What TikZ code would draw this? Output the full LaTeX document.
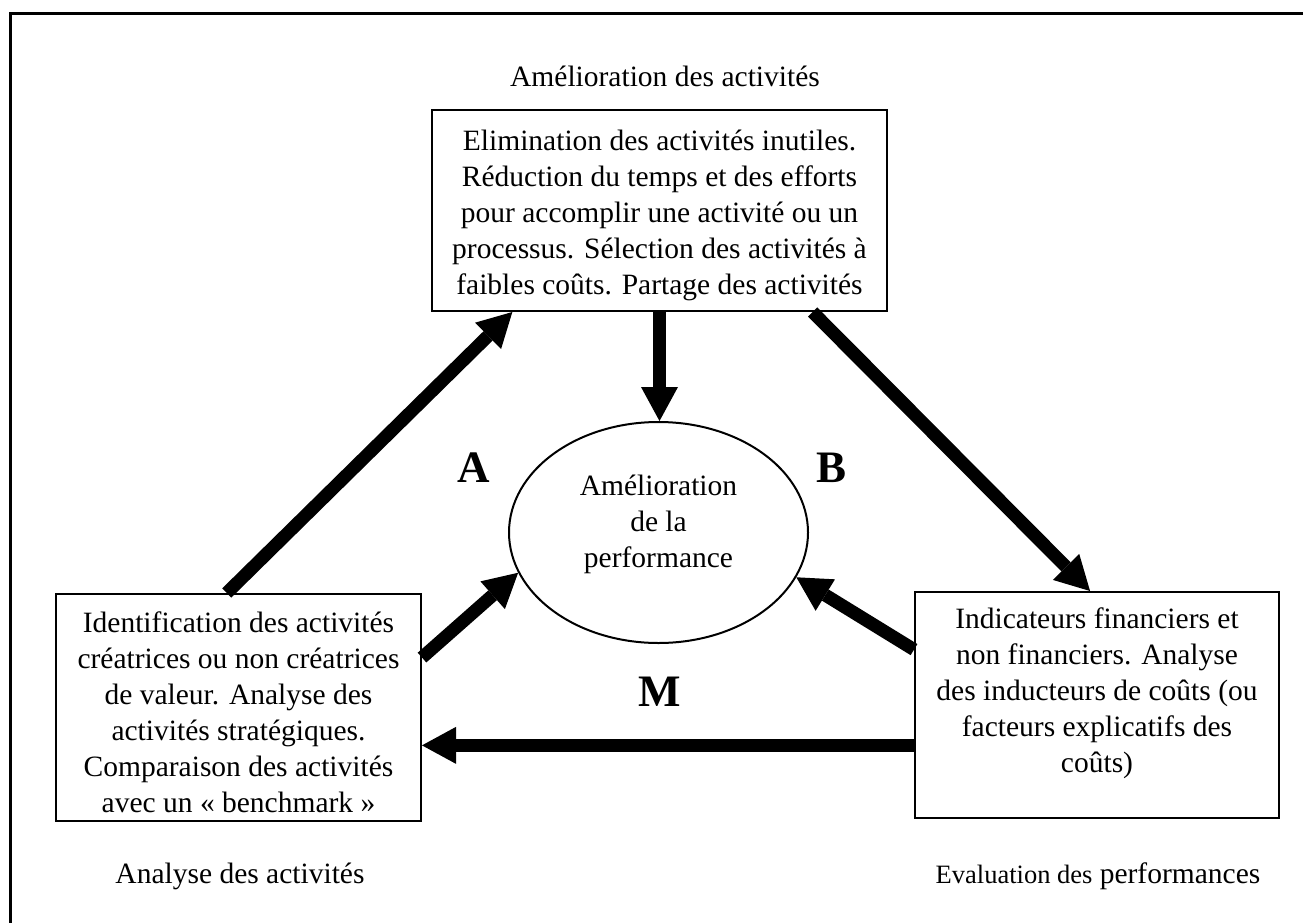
\documentclass[tikz,border=0pt]{standalone}
\usepackage{fontspec}
\setmainfont{Liberation Serif}
\usetikzlibrary{arrows.meta,shapes.geometric,calc}
\newcommand\diagfont{\fontsize{29.5pt}{36pt}\selectfont}
\begin{document}
\begin{tikzpicture}[x=1pt,y=-1pt,
  panel/.style={draw, line width=2pt, inner sep=0pt, align=center, font=\diagfont},
  bubble/.style={draw, ellipse, line width=2pt, inner sep=0pt, align=center, font=\diagfont},
  bigarrow/.style={line width=13pt, -{Triangle[length=34pt,width=37pt,line width=0pt]}},
  caption/.style={font=\diagfont, anchor=base, inner sep=0pt},
  tag/.style={font=\fontsize{45pt}{50pt}\selectfont\bfseries, anchor=base, inner sep=0pt}]
\useasboundingbox (0,0) rectangle (1303,923);

% outer frame (top and left edges)
\draw[line width=3pt] (10.5,923) -- (10.5,13.5) -- (1303,13.5);

% boxes
\node[panel, minimum width=455pt, minimum height=201pt] (tbox) at (659.5,210.5)
  {\rule{0pt}{29.5pt}Elimination des activités inutiles.\\
   Réduction du temps et des efforts\\
   pour accomplir une activité ou un\\
   processus. Sélection des activités à\\
   faibles coûts. Partage des activités};
\node[panel, minimum width=365pt, minimum height=227pt] (lbox) at (238.5,707.5)
  {\rule{0pt}{29.3pt}Identification des activités\\
   créatrices ou non créatrices\\
   de valeur. Analyse des\\
   activités stratégiques.\\
   Comparaison des activités\\
   avec un « benchmark »};
\node[panel, minimum width=364pt, minimum height=226pt] (rbox) at (1097,705)
  {Indicateurs financiers et\\
   non financiers. Analyse\\
   des inducteurs de coûts (ou\\
   facteurs explicatifs des\\
   coûts)\rule[-30pt]{0pt}{30pt}};
\node[bubble, minimum width=299pt, minimum height=221pt] (ell) at (658.5,532.5)
  {Amélioration\\ de la\\ performance\rule[-23pt]{0pt}{23pt}};

% captions
\node[caption] (ttl) at (665,87) {Amélioration des activités};
\node[caption] (lcap) at (240,883) {Analyse des activités};
\node[caption] (rcap) at (1098,883) {{\fontsize{26.5pt}{32pt}\selectfont Evaluation des} performances};

% letters
\node[tag] (tA) at (474,482) {A};
\node[tag] (tB) at (831,482) {B};
\node[tag] (tM) at (660,706) {M};

% connectors
\coordinate (aS) at ($(lbox.north west)!0.468!(lbox.north east)$);
\coordinate (aE) at ($(tbox.south west)!0.178!(tbox.south east)$);
\draw[bigarrow] (aS) -- (aE);

\coordinate (bS) at ($(tbox.south west)!0.835!(tbox.south east)$);
\coordinate (bE) at ($(rbox.north west)!0.481!(rbox.north east)$);
\draw[bigarrow] (bS) -- (bE);

\draw[bigarrow] (tbox.south) -- (tbox.south |- ell.north);

\coordinate (lS) at ($(lbox.north east)!0.282!(lbox.south east)$);
\draw[bigarrow] (lS) -- (ell.196.9);

\coordinate (rS) at ($(rbox.north west)!0.257!(rbox.south west)$);
\draw[bigarrow] (rS) -- (ell.342.5);

\coordinate (mS) at ($(rbox.north west)!0.677!(rbox.south west)$);
\draw[bigarrow] (mS) -- (lbox.east |- mS);
\end{tikzpicture}
\end{document}
